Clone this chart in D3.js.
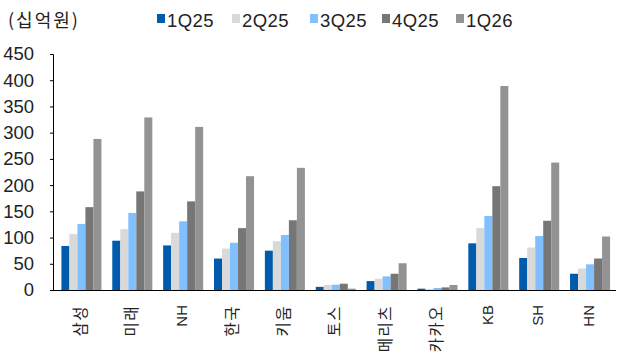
<!DOCTYPE html>
<html><head><meta charset="utf-8">
<script src="https://cdn.jsdelivr.net/npm/d3@7"></script>
<style>
body{margin:0;background:#fff;}
text{fill:#222;}
</style></head>
<body>
<svg id="c" width="628" height="359"></svg>
<script>
const categories = ["삼성","미래","NH","한국","키움","토스","메리츠","카카오","KB","SH","HN"];
const seriesNames = ["1Q25","2Q25","3Q25","4Q25","1Q26"];
const s1Q25 = [84, 94, 85, 60, 75, 6, 17, 2.5, 89, 61, 31];
const s2Q25 = [107, 116, 109, 79, 93, 9.5, 21.5, 2, 118, 81, 41];
const s3Q25 = [126, 147, 131, 90, 105, 10, 26, 3.8, 141, 103, 49];
const s4Q25 = [158, 188, 169, 118, 133, 12, 31, 5, 198, 132, 60];
const s1Q26 = [288, 329, 311, 217, 233, 2.5, 51, 9.5, 389, 243, 102];
const yTicks = [0,50,100,150,200,250,300,350,400,450];
const colors = ["#005BAC","#D9D9D9","#80C0FF","#767676","#939393"];
const seriesVals = [s1Q25, s2Q25, s3Q25, s4Q25, s1Q26];

const svg = d3.select("#c");
const latin = "'Liberation Sans', Arial, sans-serif";
const kr = "'Noto Sans CJK KR', 'Liberation Sans', sans-serif";

const x = d3.scaleBand().domain(categories).range([56, 615.5]).paddingInner(0.213).paddingOuter(0.1065);
const xs = d3.scaleBand().domain(seriesNames).range([0, x.bandwidth()]);
const y = d3.scaleLinear().domain([0, 450]).range([290, 54]);

// bars
const g = svg.append("g");
seriesNames.forEach((s, si) => {
  g.selectAll(null).data(categories).enter().append("rect")
    .attr("x", c => x(c) + xs(s))
    .attr("y", (c, i) => y(seriesVals[si][i]))
    .attr("width", xs.bandwidth())
    .attr("height", (c, i) => y(0) - y(seriesVals[si][i]))
    .attr("fill", colors[si]);
});

// y axis
const yAxis = d3.axisLeft(y).tickValues(yTicks).tickSize(3).tickPadding(16).tickFormat(d3.format("d"));
const ya = svg.append("g").attr("transform", "translate(53,0)").call(yAxis);
ya.select(".domain").attr("stroke", "#000").attr("d", "M-3,54.5H0.5V290.5");
ya.selectAll(".tick line").attr("stroke", "#000");
ya.selectAll(".tick text").attr("font-family", latin).attr("font-size", 18.5).attr("fill", "#222");

// x axis line
const xAxis = d3.axisBottom(x).tickSize(0).tickFormat("");
const xa = svg.append("g").attr("transform", "translate(0,290.5)").call(xAxis);
xa.select(".domain").attr("stroke", "#000").attr("stroke-width", 1.2).attr("d", "M53,0H616");

// x labels rotated
svg.append("g").selectAll("text").data(categories).enter().append("text")
  .attr("transform", c => `translate(${x(c) + x.bandwidth()/2 - 1},305) rotate(-90)`)
  .attr("text-anchor", "end")
  .attr("dy", "0.35em")
  .attr("font-family", c => /[A-Z]/.test(c) ? latin : kr)
  .attr("font-size", c => /[A-Z]/.test(c) ? 15 : 15.5)
  .attr("letter-spacing", c => /[A-Z]/.test(c) ? 0 : 1.5)
  .attr("fill", "#222")
  .text(c => c);

// unit label
svg.append("text").attr("x", 8).attr("y", 27).attr("font-family", kr).attr("font-size", 18).attr("letter-spacing", 2).attr("fill", "#222").text("(십억원)");

// legend
const legX = d3.scaleOrdinal().domain(seriesNames).range([157, 232, 310, 382, 456]);
const leg = svg.append("g");
seriesNames.forEach((s, i) => {
  leg.append("rect").attr("x", legX(s)).attr("y", 14).attr("width", 8).attr("height", 9).attr("fill", colors[i]);
  leg.append("text").attr("x", legX(s) + 10).attr("y", 27).attr("font-family", latin).attr("font-size", 18.5).attr("letter-spacing", 0.4).attr("fill", "#222").text(s);
});
</script>
</body></html>
